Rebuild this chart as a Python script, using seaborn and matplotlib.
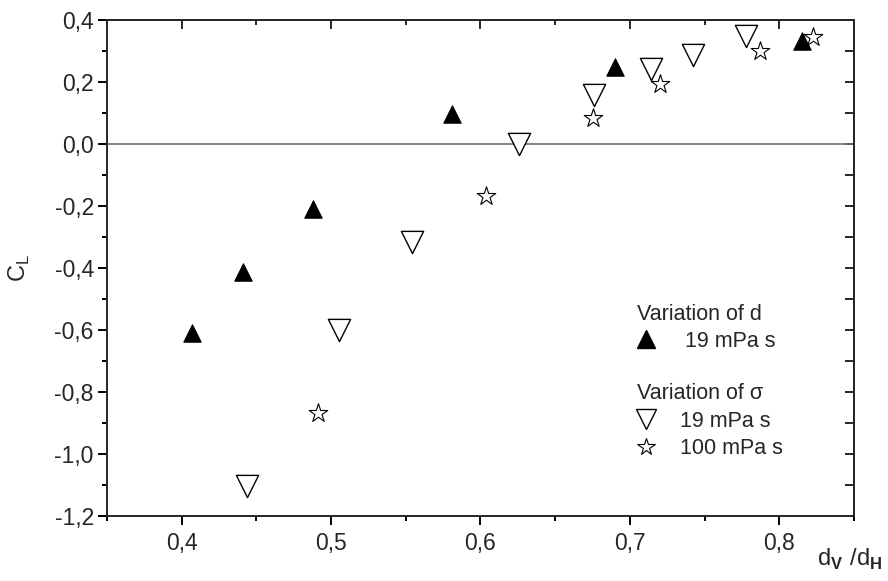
import numpy as np
import pandas as pd
import matplotlib
matplotlib.use("Agg")
import matplotlib.pyplot as plt
from matplotlib.lines import Line2D
import seaborn as sns

# data
d_ratio_d = [0.407, 0.441, 0.488, 0.581, 0.690, 0.815]
cl_d = [-0.611, -0.414, -0.210, 0.097, 0.247, 0.331]

d_ratio_sigma19 = [0.4435, 0.505, 0.554, 0.6255, 0.676, 0.714, 0.742, 0.7776]
cl_sigma19 = [-1.103, -0.600, -0.315, 0.0, 0.158, 0.242, 0.287, 0.349]

d_ratio_sigma100 = [0.491, 0.604, 0.675, 0.720, 0.787, 0.8226]
cl_sigma100 = [-0.868, -0.167, 0.084, 0.194, 0.301, 0.344]

x_ticks = [0.4, 0.5, 0.6, 0.7, 0.8]
x_ticklabels = ["0,4", "0,5", "0,6", "0,7", "0,8"]
y_ticks = [-1.2, -1.0, -0.8, -0.6, -0.4, -0.2, 0.0, 0.2, 0.4]
y_ticklabels = ["-1,2", "-1,0", "-0,8", "-0,6", "-0,4", "-0,2", "0,0", "0,2", "0,4"]

sns.set_style("ticks")
plt.rcParams["font.family"] = ["Liberation Sans", "DejaVu Sans"]
plt.rcParams["mathtext.fontset"] = "custom"
plt.rcParams["mathtext.rm"] = "Liberation Sans"
plt.rcParams["mathtext.bf"] = "Liberation Sans:bold"
plt.rcParams["axes.linewidth"] = 1.4

fig = plt.figure(figsize=(8.88, 5.81), dpi=100)
ax = fig.add_axes([0.1205, 0.1119, 0.8412, 0.8537])

df_d = pd.DataFrame({"x": d_ratio_d, "y": cl_d})
df_s19 = pd.DataFrame({"x": d_ratio_sigma19, "y": cl_sigma19})
df_s100 = pd.DataFrame({"x": d_ratio_sigma100, "y": cl_sigma100})

ax.axhline(0, color="#6e6e6e", lw=1.2, zorder=1)

sns.scatterplot(data=df_d, x="x", y="y", marker="^", s=12.5**2, color="black",
                edgecolor="black", linewidth=0.8, ax=ax, zorder=3, legend=False)
sns.scatterplot(data=df_s19, x="x", y="y", marker="v", s=16**2, facecolor="white",
                edgecolor="black", linewidth=1.0, ax=ax, zorder=3, legend=False)
sns.scatterplot(data=df_s100, x="x", y="y", marker="*", s=14**2, facecolor="white",
                edgecolor="black", linewidth=0.8, ax=ax, zorder=4, legend=False)

ax.set_xlim(0.35, 0.85)
ax.set_ylim(-1.2, 0.4)
ax.set_xticks(x_ticks)
ax.set_xticklabels(x_ticklabels)
ax.set_yticks(y_ticks)
ax.set_yticklabels(y_ticklabels)
ax.set_xticks(np.arange(0.35, 0.86, 0.05), minor=True)
ax.set_yticks(np.arange(-1.2, 0.41, 0.1), minor=True)
ax.tick_params(which="major", direction="out", length=6.5, width=1.4,
               labelsize=16.5, pad=3, color="black")
ax.tick_params(which="minor", direction="out", length=3.5, width=1.4, color="black")
ax.tick_params(axis="x", pad=5)

# top and right: inward ticks, no labels
top = ax.secondary_xaxis("top")
top.set_xticks(x_ticks)
top.set_xticks(np.arange(0.35, 0.86, 0.05), minor=True)
top.tick_params(which="both", direction="in", labeltop=False, width=1.4)
top.tick_params(which="major", length=6.5)
top.tick_params(which="minor", length=3.5)
right = ax.secondary_yaxis("right")
right.set_yticks(y_ticks)
right.set_yticks(np.arange(-1.2, 0.41, 0.1), minor=True)
right.tick_params(which="both", direction="in", labelright=False, width=1.4, length=6.5)

for side in ["top", "right"]:
    ax.spines[side].set_visible(True)

ax.set_xlabel(r"$\mathrm{d}_{\mathbf{V}}\ /\mathrm{d}_{\mathbf{H}}$", fontsize=17)
ax.xaxis.set_label_coords(0.995, -0.062)
ax.set_ylabel(r"C$_\mathregular{L}$", fontsize=17, va="center")
ax.yaxis.set_label_coords(-0.117, 0.5)

h_d = [Line2D([], [], ls="none", marker="^", ms=12.5, mfc="black", mec="black")]
leg1 = ax.legend(h_d, ["19 mPa s"], title="Variation of d", loc="upper left",
                 bbox_to_anchor=(0.695, 0.45), frameon=False, fontsize=15.5,
                 title_fontsize=15.5, alignment="left", borderpad=0,
                 handlelength=0.8, handletextpad=1.44, labelspacing=0.3)
ax.add_artist(leg1)

h_s = [Line2D([], [], ls="none", marker="v", ms=15, mfc="white", mec="black", mew=1.0),
       Line2D([], [], ls="none", marker="*", ms=13, mfc="white", mec="black", mew=0.8)]
ax.legend(h_s, ["19 mPa s", "100 mPa s"], title="Variation of \u03c3", loc="upper left",
          bbox_to_anchor=(0.695, 0.289), frameon=False, fontsize=15.5,
          title_fontsize=15.5, alignment="left", borderpad=0,
          handlelength=0.8, handletextpad=1.19, labelspacing=0.3)

fig.savefig("out.png", dpi=100)
